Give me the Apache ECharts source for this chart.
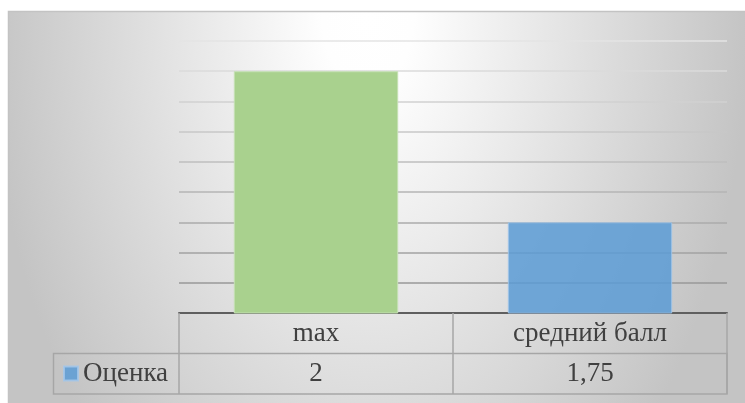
<!DOCTYPE html>
<html><head><meta charset="utf-8">
<script src="https://cdn.jsdelivr.net/npm/echarts@6/dist/echarts.min.js"></script>
<style>html,body{margin:0;padding:0;background:#fff}#c{width:745px;height:403px}</style>
</head><body><div id="c"></div>
<script>
const categories = ['max', 'средний балл'];
const seriesName = 'Оценка';
const values = [2, 1.75];
const barColors = ['#a9d18e', '#5b9bd5'];
const barBorders = ['#c5e0b4', '#a3c7ea'];
const yMin = 1.6, yMax = 2.05, yStep = 0.05;

const fmt = v => String(v).replace('.', ',');
const FONT = "'Liberation Serif', 'Times New Roman', serif";
const TXT = '#404040';
const W = 745, H = 403;
const G = {left: 179, right: 18, top: 41, bottom: 90};
const SY = 1.6;
const BGW = W - 8, BGH = (H - 11) / SY + 2;

const chart = echarts.init(document.getElementById('c'), null, {renderer: 'canvas'});
const option = {
  animation: false,
  graphic: [
    {type: 'rect', z: -10, x: 8, y: 11, scaleY: SY,
     shape: {x: 0, y: 0, width: BGW, height: BGH},
     style: {fill: new echarts.graphic.RadialGradient(360 / BGW, 3 / BGH, 380 / Math.min(BGW, BGH),
        [{offset: 0, color: '#ffffff'}, {offset: 0.12, color: '#fefefe'}, {offset: 1, color: '#c4c4c4'}], false)}},
    {type: 'polyline', z: -9, shape: {points: [[8.5, H], [8.5, 11.5], [W, 11.5]]},
     style: {stroke: '#c3c3c3', lineWidth: 1.5, fill: null}},
    {type: 'rect', z: 10, shape: {x: 53.5, y: 353.5, width: W - G.right - 53.5, height: 40.5},
     style: {fill: null, stroke: '#a6a6a6', lineWidth: 1.5}}
  ],
  grid: {left: G.left, right: G.right, top: G.top, bottom: G.bottom, containLabel: false},
  legend: {
    data: [seriesName], left: 63, top: 360, padding: 0, icon: 'rect',
    itemWidth: 14, itemHeight: 14, selectedMode: false,
    textStyle: {fontFamily: FONT, fontSize: 27, color: TXT}
  },
  xAxis: [
    {type: 'category', data: categories, position: 'bottom',
     axisLine: {show: true, lineStyle: {color: '#5f5f5f', width: 2}},
     axisTick: {show: true, length: 81, alignWithLabel: false, interval: 0, lineStyle: {color: '#a6a6a6', width: 1.5}},
     axisLabel: {interval: 0, margin: 21, verticalAlign: 'middle', fontFamily: FONT, fontSize: 27, color: TXT},
     splitLine: {show: false}},
    {type: 'category', data: categories, position: 'bottom',
     axisLine: {show: false}, axisTick: {show: false}, splitLine: {show: false},
     axisLabel: {interval: 0, margin: 61, verticalAlign: 'middle', fontFamily: FONT, fontSize: 27, color: TXT,
       formatter: (v, i) => fmt(values[i])}}
  ],
  yAxis: {
    type: 'value', min: yMin, max: yMax, interval: yStep,
    axisLabel: {show: false}, axisLine: {show: false}, axisTick: {show: false},
    splitLine: {show: true, lineStyle: {width: 1.5,
      color: new echarts.graphic.LinearGradient(0, G.top, 0, H - G.bottom,
        [{offset: 0, color: '#e4e4e4'}, {offset: 1, color: '#8f8f8f'}], true)}}
  },
  series: [{
    type: 'bar', name: seriesName, xAxisIndex: 0, barWidth: '60%',
    itemStyle: {color: barColors[1], opacity: 0.85, borderColor: barBorders[1], borderWidth: 1},
    data: values.map((v, i) => i === 0
      ? {value: v, itemStyle: {color: barColors[0], opacity: 1, borderColor: barBorders[0], borderWidth: 1}}
      : {value: v})
  }]
};
chart.setOption(option);
</script></body></html>
